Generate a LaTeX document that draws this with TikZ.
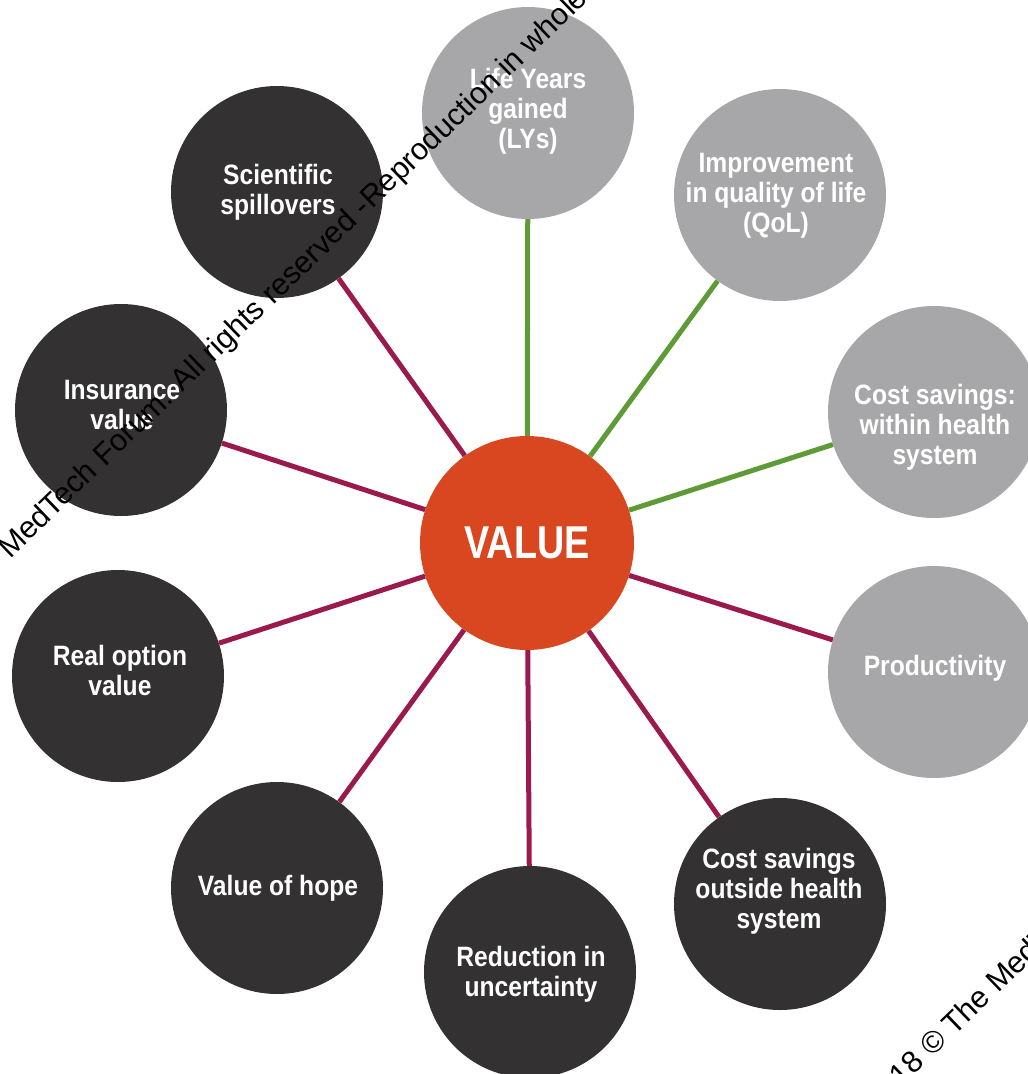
\documentclass[tikz,border=0pt]{standalone}
\usepackage{fontspec}
\setmainfont{Liberation Sans}
\newfontfamily\condfont{Liberation Sans}[FakeStretch=0.88]
\newfontfamily\valfont{Liberation Sans}[FakeStretch=0.82]
\definecolor{circgrey}{HTML}{A7A7A9}
\definecolor{circdark}{HTML}{333132}
\definecolor{valorange}{HTML}{D8471F}
\definecolor{lnkgreen}{HTML}{5E9B37}
\definecolor{lnkred}{HTML}{9B1A4D}
\tikzset{
  outer/.style={circle, minimum size=212pt, inner sep=0pt},
  greyc/.style={outer, fill=circgrey},
  darkc/.style={outer, fill=circdark},
  lbl/.style={inner sep=0pt, text=white, align=center,
    font=\condfont\bfseries\fontsize{28}{30}\selectfont},
  valc/.style={circle, minimum size=214pt, inner sep=0pt, fill=valorange, text=white,
    font=\valfont\bfseries\fontsize{46}{46}\selectfont},
  greenlink/.style={draw=lnkgreen, line width=5pt},
  redlink/.style={draw=lnkred, line width=5pt},
  wmark/.style={font=\fontsize{30.5}{30.5}\selectfont, text=black, inner sep=0pt, rotate=44}
}
\begin{document}
\begin{tikzpicture}[x=1pt,y=-1pt]
\useasboundingbox (0,0) rectangle (1028,1074);
\clip (0,0) rectangle (1028,1074);
\fill[white] (0,0) rectangle (1028,1074);

\node[valc] (val) at (527,543) {VALUE};

\node[greyc] (lys) at (528,113) {};
\node[greyc] (qol) at (780,195) {};
\node[greyc] (within) at (934,412) {};
\node[greyc] (prod) at (934,672) {};
\node[darkc] (outside) at (780,904) {};
\node[darkc] (reduc) at (530,972) {};
\node[darkc] (hope) at (277,888) {};
\node[darkc] (realopt) at (118,676) {};
\node[darkc] (insur) at (121,410) {};
\node[darkc] (scisp) at (277,192) {};

\node[lbl] (lysT) at (528,111) {Life Years\\gained\\(LYs)};
\node[lbl] (qolT) at (776,196) {Improvement\\in quality of life\\(QoL)};
\node[lbl] (withinT) at (935,427) {Cost savings:\\within health\\system};
\node[lbl] (prodT) at (935,668) {Productivity};
\node[lbl] (outsideT) at (779,891) {Cost savings\\outside health\\system};
\node[lbl] (reducT) at (531,974) {Reduction in\\uncertainty};
\node[lbl] (hopeT) at (278,888) {Value of hope};
\node[lbl] (realoptT) at (120,670) {Real option\\value};
\node[lbl] (insurT) at (122,405) {Insurance\\value};
\node[lbl] (scispT) at (278,192) {Scientific\\spillovers};

\draw[greenlink] (val) -- (lys);
\draw[greenlink] (val) -- (qol);
\draw[greenlink] (val) -- (within);
\draw[redlink] (val) -- (prod);
\draw[redlink] (val) -- (outside);
\draw[redlink] (val) -- (reduc);
\draw[redlink] (val) -- (hope);
\draw[redlink] (val) -- (realopt);
\draw[redlink] (val) -- (insur);
\draw[redlink] (val) -- (scisp);

\node[wmark, anchor=base east] (wm1) at (372,210) {2018 © The MedTech Forum. All rights reserved - };
\node[wmark, anchor=base west] (wm2) at (372,210) {Reproduction in whole or in part};
\node[wmark, anchor=base west] (wm3) at (877,1111) {2018 © The MedTech Forum};
\end{tikzpicture}
\end{document}
